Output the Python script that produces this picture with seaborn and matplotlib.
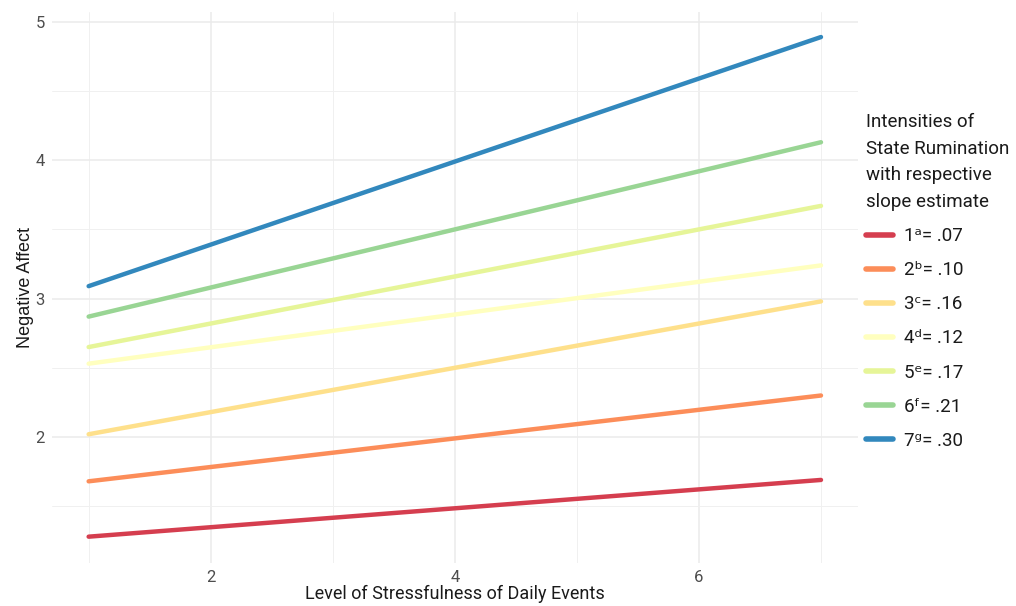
import numpy as np
import pandas as pd
import matplotlib
matplotlib.use('Agg')
import matplotlib.pyplot as plt
from matplotlib.ticker import MultipleLocator
from matplotlib.lines import Line2D
import seaborn as sns

# dados =======================================================================
stress = [1, 7]
na_low = [1.28, 1.68, 2.02, 2.53, 2.65, 2.87, 3.09]   # afeto negativo em x = 1
na_high = [1.69, 2.30, 2.98, 3.24, 3.67, 4.13, 4.89]  # afeto negativo em x = 7
niveis = ['1', '2', '3', '4', '5', '6', '7']
letras = ['ᵃ', 'ᵇ', 'ᶜ', 'ᵈ', 'ᵉ', 'ᶠ', 'ᵍ']
slopes = ['.07', '.10', '.16', '.12', '.17', '.21', '.30']
cores = ['#D53E4F', '#FC8D59', '#FEE08B', '#FFFFBF', '#E6F598', '#99D594', '#3288BD']

linhas = []
for i, nv in enumerate(niveis):
    linhas.append({'nivel': nv, 'x': stress[0], 'y': na_low[i]})
    linhas.append({'nivel': nv, 'x': stress[1], 'y': na_high[i]})
df = pd.DataFrame(linhas)

# estilo ======================================================================
sns.set_theme(style='white')
plt.rcParams['font.family'] = ['Roboto', 'DejaVu Sans']

fig = plt.figure(figsize=(10.16, 6.06), dpi=100)
ax = fig.add_axes([0.0512, 0.071, 0.7929, 0.909])

sns.lineplot(data=df, x='x', y='y', hue='nivel', palette=cores, linewidth=3.2,
             ax=ax, legend=False)

ax.set_xlim(0.7, 7.3)
ax.set_ylim(1.09, 5.07)
ax.xaxis.set_minor_locator(MultipleLocator(1))
ax.yaxis.set_minor_locator(MultipleLocator(0.5))
ax.set_xticks([2, 4, 6])
ax.set_yticks([2, 3, 4, 5])
ax.grid(which='major', color='#EBEBEB', linewidth=1.1)
ax.grid(which='minor', color='#F0F0F0', linewidth=0.7)
ax.set_axisbelow(True)
for s in ax.spines.values():
    s.set_visible(False)
ax.tick_params(axis='both', which='both', length=0, labelsize=12, labelcolor='#4D4D4D', pad=5)

ax.set_xlabel('Level of Stressfulness of Daily Events', fontsize=13, color='#1A1A1A', labelpad=0)
ax.set_ylabel('Negative Affect', fontsize=13, color='#1A1A1A', labelpad=1,
              family=['Liberation Sans', 'DejaVu Sans'])

# legenda =====================================================================
handles = [Line2D([0], [0], color=c, lw=4) for c in cores]
labels = [f'{n}{l}= {s}' for n, l, s in zip(niveis, letras, slopes)]
leg = fig.legend(handles, labels, title='Intensities of\nState Rumination\nwith respective\nslope estimate',
                 loc='upper left', bbox_to_anchor=(0.845, 0.826), frameon=False,
                 fontsize=13.5, title_fontsize=13.5, handlelength=1.45, handletextpad=0.6,
                 labelspacing=0.86, alignment='left', borderaxespad=0)
leg.get_title().set_linespacing(1.62)
leg.get_title().set_color('#1A1A1A')
for t in leg.get_texts():
    t.set_color('#1A1A1A')

fig.savefig('out.png', dpi=100)
